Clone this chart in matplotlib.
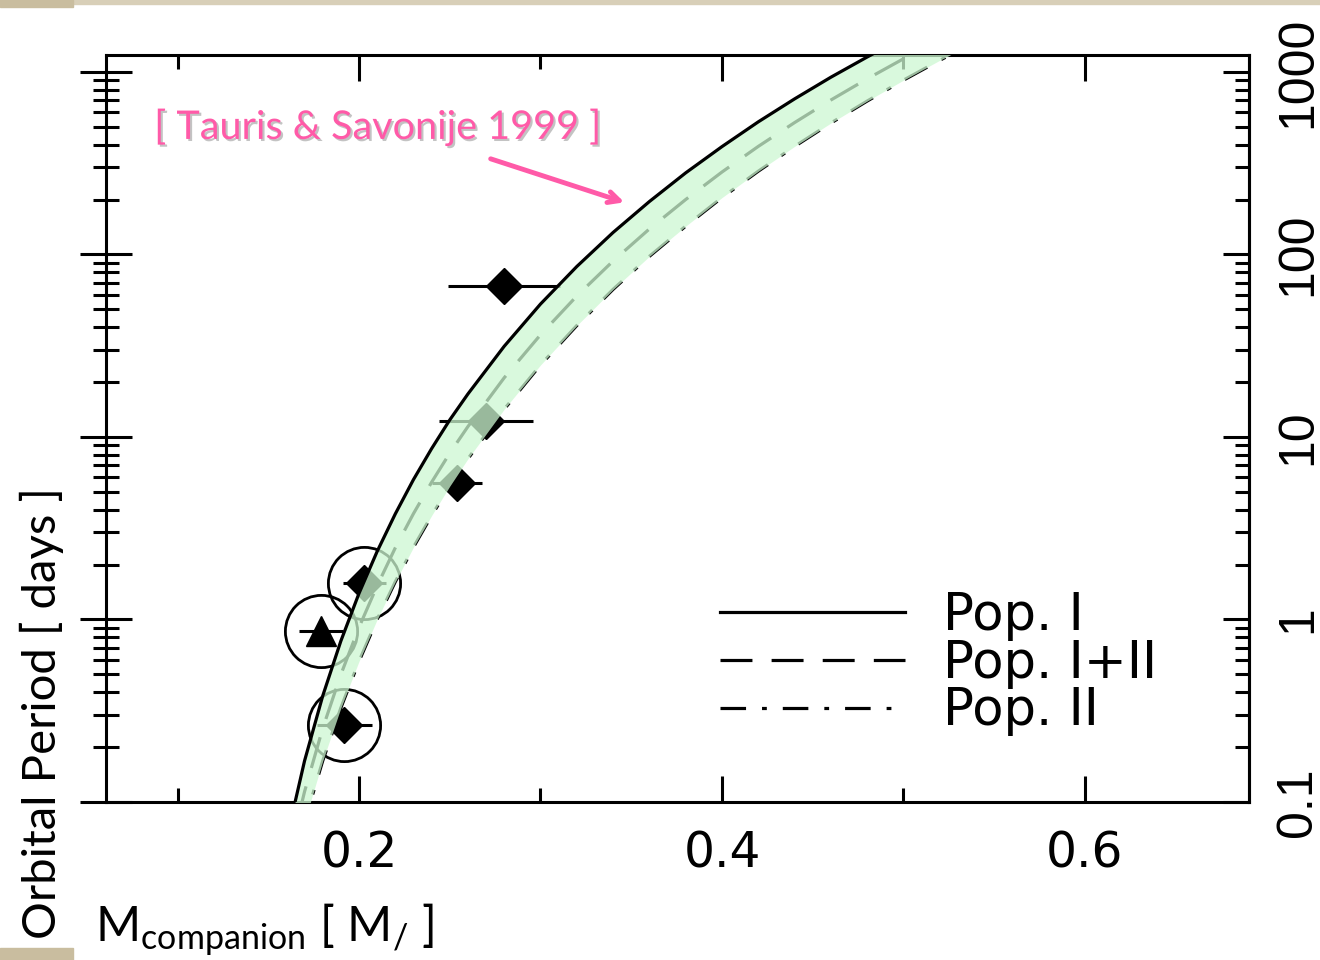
import matplotlib
matplotlib.use('Agg')
import matplotlib.pyplot as plt
import matplotlib.patheffects as pe
from matplotlib.patches import Rectangle
from matplotlib.ticker import (MultipleLocator, LogLocator, FixedLocator,
                               FuncFormatter, NullFormatter)

# Porb - Mwd relation curves
mass_grid = [0.16, 0.17, 0.18, 0.19, 0.20, 0.21, 0.22, 0.23, 0.24, 0.25, 0.26,
             0.28, 0.30, 0.32, 0.34, 0.36, 0.38, 0.40, 0.42, 0.44, 0.46, 0.48,
             0.50, 0.52, 0.54]
period_pop1 = [0.062, 0.168, 0.381, 0.762, 1.39, 2.36, 3.79, 5.84, 8.63, 12.4, 17.2,
               31.4, 53.5, 85.9, 132, 195, 280, 390, 533, 712, 936, 1208,
               1542, 1943, 2419]
period_pop12 = [0.044, 0.114, 0.253, 0.499, 0.905, 1.53, 2.47, 3.80, 5.65, 8.15, 11.4,
                21.1, 36.3, 59.2, 92.1, 138, 200, 283, 391, 528, 702, 917,
                1181, 1503, 1888]
period_pop2 = [0.031, 0.078, 0.168, 0.328, 0.590, 1.00, 1.61, 2.49, 3.71, 5.38, 7.59,
               14.2, 24.8, 40.8, 64.4, 97.7, 143, 205, 286, 391, 525, 693,
               902, 1159, 1470]

# observed binaries
obs_mass = [0.280, 0.270, 0.254, 0.203, 0.179, 0.192]
obs_mass_err = [0.031, 0.026, 0.014, 0.012, 0.012, 0.015]
obs_period = [67.2, 12.2, 5.6, 1.58, 0.865, 0.264]
obs_marker = ['D', 'D', 'D', 'D', '^', 'D']
obs_circled = [False, False, False, True, True, True]

legend_labels = ['Pop. I', 'Pop. I+II', 'Pop. II']
period_ticks = [0.1, 1, 10, 100, 1000]

fig = plt.figure(figsize=(13.2, 9.6), dpi=100)
ax = fig.add_axes([106 / 1320, 1 - 802 / 960, 1143 / 1320, 747 / 960])

# slide background bits
fig.patches.append(Rectangle((0, 1 - 4 / 960), 1, 4 / 960, transform=fig.transFigure,
                             color='#d8cfb8', zorder=0))
fig.patches.append(Rectangle((0, 1 - 7 / 960), 73 / 1320, 7 / 960, transform=fig.transFigure,
                             color='#c9bd9f', zorder=0))
fig.patches.append(Rectangle((0, 0), 73 / 1320, 12 / 960, transform=fig.transFigure,
                             color='#c9bd9f', zorder=0))

# data points
for m, dm, p, mk, circ in zip(obs_mass, obs_mass_err, obs_period, obs_marker, obs_circled):
    ax.errorbar(m, p, xerr=dm, fmt=mk, color='black', ms=18 if mk == 'D' else 21,
                elinewidth=2.2, capsize=0, zorder=2)
    if circ:
        ax.plot(m, p, 'o', mfc='none', mec='black', ms=52, mew=2.0, zorder=2)

# model curves
l1, = ax.plot(mass_grid, period_pop1, color='black', lw=2.3, ls='-', zorder=4)
l2, = ax.plot(mass_grid, period_pop12, color='black', lw=2.3, dashes=(10, 6), zorder=2)
l3, = ax.plot(mass_grid, period_pop2, color='black', lw=2.3, dashes=(8, 5, 1.5, 5), zorder=2)
ax.fill_between(mass_grid, period_pop2, period_pop1, color='#cdf8d2', alpha=0.75,
                lw=0, zorder=3)

ax.set_yscale('log')
ax.set_xlim(0.0606, 0.6904)
ax.set_ylim(0.1, 1239)

ax.xaxis.set_major_locator(MultipleLocator(0.2))
ax.xaxis.set_minor_locator(MultipleLocator(0.1))
ax.xaxis.set_major_formatter(FuncFormatter(lambda v, _: f'{v:.1f}'))
ax.tick_params(axis='x', which='both', direction='in', top=True, bottom=True,
               width=2.2, labelsize=35, pad=20)
ax.tick_params(axis='x', which='major', length=19)
ax.tick_params(axis='x', which='minor', length=10)

ax.yaxis.set_major_locator(FixedLocator(period_ticks))
ax.yaxis.set_minor_locator(LogLocator(base=10, subs=range(2, 10)))
ax.yaxis.set_minor_formatter(NullFormatter())
ax.tick_params(axis='y', which='both', direction='inout', left=True, right=False,
               labelleft=False, width=2.2)
ax.tick_params(axis='y', which='major', length=37)
ax.tick_params(axis='y', which='minor', length=19)

sec = ax.secondary_yaxis('right')
sec.yaxis.set_major_locator(FixedLocator(period_ticks))
sec.yaxis.set_minor_locator(LogLocator(base=10, subs=range(2, 10)))
sec.yaxis.set_major_formatter(FuncFormatter(lambda v, _: f'{v:g}'))
sec.yaxis.set_minor_formatter(NullFormatter())
sec.tick_params(axis='y', which='both', direction='in', width=2.2, labelsize=36, pad=19)
sec.tick_params(axis='y', which='major', length=19)
sec.tick_params(axis='y', which='minor', length=10)
for t in sec.get_yticklabels():
    t.set_rotation(90)
    t.set_va('center')
    t.set_fontfamily('Liberation Sans')
sec.spines['right'].set_linewidth(2.2)

for s in ax.spines.values():
    s.set_linewidth(2.2)

leg = ax.legend([l1, l2, l3], legend_labels, frameon=False, loc='upper left',
                bbox_to_anchor=(0.537, 0.283), prop={'family': 'DejaVu Sans', 'size': 37},
                handlelength=3.6, handletextpad=0.74, labelspacing=-0.04,
                borderpad=0, borderaxespad=0)

# annotation
ax.text(0.2105, 500, '[ Tauris & Savonije 1999 ]', color='#ff5aa8', fontsize=28.5,
        family='Lato', ha='center', va='center', zorder=6,
        path_effects=[pe.withSimplePatchShadow(offset=(1.5, -1.5), shadow_rgbFace='#888888',
                                               alpha=0.5)])
ax.annotate('', xy=(0.3477, 191), xytext=(0.2711, 338), zorder=6,
            arrowprops=dict(arrowstyle='->,head_length=0.8,head_width=0.4',
                            color='#ff5aa8', lw=3.5))

plt.rcParams['mathtext.fontset'] = 'custom'
plt.rcParams['mathtext.rm'] = 'Lato'
fig.text(42 / 1320, 1 - 713 / 960, 'Orbital Period [ days ]', rotation=90,
         ha='center', va='center', fontsize=34, family='Lato')
fig.text(95 / 1320, 1 - 942 / 960, r'M$_{\mathrm{companion}}$ [ M$_{\mathrm{/}}$ ]',
         ha='left', va='baseline', fontsize=35, family='Lato')

fig.savefig('out.png', dpi=100)
